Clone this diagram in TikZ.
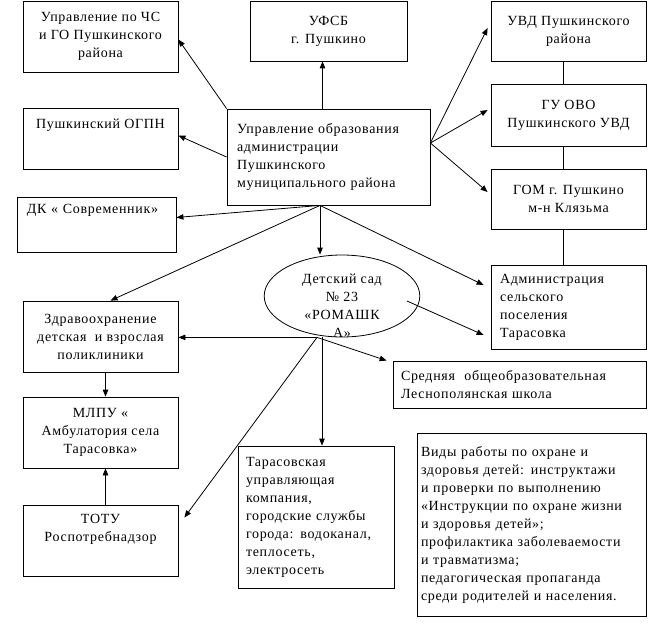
\documentclass[tikz,border=0pt]{standalone}
\usepackage{fontspec}
\setmainfont[LetterSpace=5.0]{Liberation Serif}
\newfontfamily\schemefont[LetterSpace=5.0]{Liberation Serif}
\usetikzlibrary{calc,arrows.meta,shapes.geometric}

\tikzset{
	box/.style={draw, line width=0.8pt, inner sep=0pt, align=center},
	lbox/.style={box, align=left},
	arr/.style={line width=0.8pt, -{Triangle[length=7pt,width=5.5pt]}},
	link/.style={line width=0.8pt}
}

\begin{document}
\begin{tikzpicture}[x=1pt, y=-1pt, every node/.style={font=\schemefont\fontsize{14}{18}\selectfont}]
			%%%%% START %%%%%
			\useasboundingbox (0,0) rectangle (659,626);
			
			% left column
			\node[box, minimum width=155, minimum height=71] (chs) at (100.5,36.5) {Управление по ЧС\\и ГО Пушкинского\\района};
			\node[box, minimum width=155, minimum height=61] (ogpn) at (100.5,138.5) {Пушкинский ОГПН\\[7pt]\strut};
			\node[lbox, minimum width=159, minimum height=55, text width=139] (dk) at (96.5,224.5) {\mbox{ДК « Современник»}\\[7pt]\strut};
			\node[box, minimum width=155, minimum height=71] (zdrav) at (100.5,336.5) {Здравоохранение\\детская\ \ и взрослая\\поликлиники};
			\node[box, minimum width=155, minimum height=71] (mlpu) at (100.5,432.5) {МЛПУ «\\Амбулатория села\\Тарасовка»};
			\node[box, minimum width=155, minimum height=71] (totu) at (100.5,540.5) {ТОТУ\\Роспотребнадзор\\[1pt]\strut};
			
			% middle
			\node[box, minimum width=157, minimum height=60] (ufsb) at (328.5,31) {УФСБ\\г. Пушкино};
			\node[lbox, minimum width=203, minimum height=96, text width=183] (upr) at (328.5,157) {Управление образования\\администрации\\Пушкинского\\муниципального района};
			\node[ellipse, draw, line width=0.8pt, inner sep=0pt, minimum width=154, minimum height=82] (sad) at (342,296)
				{\raisebox{-13pt}[0pt][0pt]{\parbox{110pt}{\centering Детский сад\\№ 23\\«РОМАШК\\А»}}};
			\node[lbox, minimum width=156, minimum height=142, text width=140] (tars) at (316,517) {Тарасовская\\управляющая\\компания,\\городские службы\\\mbox{города: водоканал,}\\теплосеть,\\электросеть};
			
			% right column
			\node[box, minimum width=155, minimum height=60] (uvd) at (568.5,31) {УВД Пушкинского\\района};
			\node[box, minimum width=155, minimum height=62] (guovo) at (568.5,115) {ГУ ОВО\\Пушкинского УВД};
			\node[box, minimum width=155, minimum height=60] (gom) at (568.5,199) {ГОМ г. Пушкино\\м-н Клязьма};
			\node[lbox, minimum width=155, minimum height=84, text width=137] (adm) at (568.5,307) {Администрация\\сельского\\поселения\\Тарасовка};
			\node[lbox, minimum width=253, minimum height=47, text width=237] (sred) at (519.5,384.5) {Средняя\ \ общеобразовательная\\Леснополянская школа};
			\node[lbox, minimum width=229, minimum height=183, text width=221] (vidy) at (531.5,524.5) {Виды работы по охране и\\здоровья детей: инструктажи\\и проверки по выполнению\\«Инструкции по охране жизни\\и здоровья детей»;\\профилактика заболеваемости\\и травматизма;\\педагогическая пропаганда\\среди родителей и населения.};
			
			\coordinate (uprS) at ([xshift=-8.5pt]upr.south);
			\coordinate (uprE) at ([yshift=14pt]upr.east);
			\coordinate (sadB) at ([xshift=-25pt]sad.south);
			\coordinate (sadV) at ([xshift=-20pt]sad.south);
			\coordinate (sadI) at ([xshift=65pt,yshift=-5pt]sad.center);
			
			% from the Upravlenie box
			\draw[arr] (upr.north west) -- ([yshift=-3pt]chs.east);
			\draw[arr] (upr.west) -- ([yshift=3pt]ogpn.east);
			\draw[arr] ([xshift=-6pt]upr.north) -- ([xshift=-6pt]ufsb.south);
			\draw[arr] (uprE) -- ([xshift=-3pt,yshift=3pt]uvd.west);
			\draw[arr] (uprE) -- ([xshift=-3pt,yshift=5pt]guovo.west);
			\draw[arr] (uprE) -- ([xshift=-3pt,yshift=7pt]gom.west);
			\draw[arr] (uprS) -- ([yshift=7pt]dk.east);
			\draw[arr] (uprS) -- (uprS |- sad.north);
			\draw[arr] (uprS) -- ([xshift=10pt]zdrav.north);
			\draw[arr] (uprS) -- ([xshift=-7pt,yshift=22pt]adm.west);
			
			% right column chain
			\draw[link] ([xshift=-5.5pt]uvd.south) -- ([xshift=-5.5pt]guovo.north);
			\draw[link] ([xshift=-5.5pt]guovo.south) -- ([xshift=-5.5pt]gom.north);
			\draw[link] ([xshift=-5.5pt]gom.south) -- ([xshift=-5.5pt]adm.north);
			
			% from the kindergarten
			\draw[arr] (sadI) -- ([xshift=-7pt,yshift=-28pt]adm.west);
			\draw[arr] (sadB) -- (sadB -| zdrav.east);
			\draw[arr] (sadB) -- ([xshift=-6pt]sred.north west);
			\draw[arr] (sadV) -- (sadV |- tars.north);
			\draw[arr] (sadB) -- ([xshift=6pt,yshift=23pt]totu.east);
			
			% left column chain
			\draw[arr] ([xshift=5pt]zdrav.south) -- ([xshift=5pt]mlpu.north);
			\draw[arr] ([xshift=5pt]totu.north) -- ([xshift=5pt]mlpu.south);
			%%%%% END %%%%%
\end{tikzpicture}
\end{document}
